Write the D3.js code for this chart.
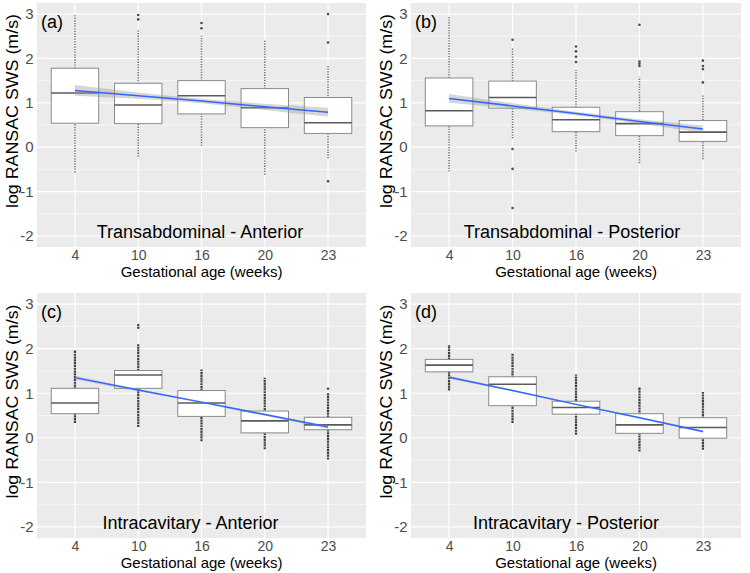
<!DOCTYPE html>
<html>
<head>
<meta charset="utf-8">
<script src="https://cdn.jsdelivr.net/npm/d3@7"></script>
<style>
  body { margin: 0; background: #fff; }
  text { font-family: "Liberation Sans", Arial, sans-serif; }
</style>
</head>
<body>
<script>
// categories (gestational age, weeks)
var categories = ["4", "10", "16", "20", "23"];
var yTicks = [-2, -1, 0, 1, 2, 3];
var yMinor = [-1.5, -0.5, 0.5, 1.5, 2.5];
var panelLetters = ["(a)", "(b)", "(c)", "(d)"];
var panelTitles = [
  "Transabdominal - Anterior",
  "Transabdominal - Posterior",
  "Intracavitary - Anterior",
  "Intracavitary - Posterior"
];

// boxes: [q1, median, q3] per category
var boxesA = [[0.54, 1.22, 1.78], [0.53, 0.95, 1.44], [0.75, 1.16, 1.50], [0.44, 0.89, 1.32], [0.31, 0.55, 1.12]];
var boxesB = [[0.48, 0.82, 1.56], [0.88, 1.12, 1.49], [0.35, 0.62, 0.90], [0.26, 0.53, 0.80], [0.13, 0.34, 0.60]];
var boxesC = [[0.54, 0.78, 1.11], [1.11, 1.41, 1.51], [0.48, 0.78, 1.06], [0.11, 0.38, 0.60], [0.18, 0.29, 0.46]];
var boxesD = [[1.48, 1.63, 1.76], [0.72, 1.20, 1.37], [0.53, 0.68, 0.82], [0.10, 0.29, 0.54], [-0.01, 0.23, 0.45]];

// dense run of raw points: [low, high] per category
var stripsA = [[-0.57, 2.98], [-0.21, 2.66], [0.03, 2.51], [-0.62, 2.42], [-0.25, 1.86]];
var stripsB = [[-0.55, 2.96], [0.20, 2.23], [-0.10, 1.74], [-0.36, 1.59], [-0.27, 1.18]];
var stripsC = [[0.33, 1.97], [0.24, 2.10], [-0.08, 1.53], [-0.26, 1.35], [-0.49, 1.00]];
var stripsD = [[1.06, 2.08], [0.33, 1.89], [0.07, 1.42], [-0.31, 1.14], [-0.27, 1.03]];

// isolated points
var outliersA = [[], [2.98, 2.88], [2.80, 2.68], [], [3.00, 2.36, -0.77]];
var outliersB = [[], [2.42, -0.04, -0.49, -1.37], [2.27, 2.16, 2.04, 1.92], [2.76, 1.93, 1.88, 1.83], [1.95, 1.83, 1.76, 1.46]];
var outliersC = [[], [2.53, 2.47], [], [], [1.10]];
var outliersD = [[], [], [], [], []];

// linear fit and half width of its confidence band
var fitA = [1.28, 1.16, 1.04, 0.91, 0.79];
var fitB = [1.10, 0.93, 0.76, 0.58, 0.41];
var fitC = [1.35, 1.07, 0.80, 0.52, 0.24];
var fitD = [1.36, 1.06, 0.75, 0.45, 0.14];
var ciA = [0.12, 0.07, 0.05, 0.07, 0.10];
var ciB = [0.10, 0.06, 0.04, 0.05, 0.08];
var ciC = [0.04, 0.025, 0.02, 0.025, 0.035];
var ciD = [0.035, 0.02, 0.015, 0.02, 0.03];

var panels = [
  { boxes: boxesA, strips: stripsA, outliers: outliersA, fit: fitA, ci: ciA },
  { boxes: boxesB, strips: stripsB, outliers: outliersB, fit: fitB, ci: ciB },
  { boxes: boxesC, strips: stripsC, outliers: outliersC, fit: fitC, ci: ciC },
  { boxes: boxesD, strips: stripsD, outliers: outliersD, fit: fitD, ci: ciD }
];

var layout = [
  { x0: 37, x1: 366, y0: 3, y1: 247, tx: 163, dense: false },
  { x0: 411, x1: 741, y0: 3, y1: 247, tx: 161, dense: false },
  { x0: 37, x1: 366, y0: 293, y1: 538, tx: 153.5, dense: true },
  { x0: 411, x1: 741, y0: 293, y1: 538, tx: 155, dense: true }
];

var svgWidth = 750;
var svgHeight = 573;

var svg = d3.select("body").append("svg")
  .attr("width", svgWidth)
  .attr("height", svgHeight);

svg.append("rect").attr("width", svgWidth).attr("height", svgHeight).attr("fill", "#fff");

panels.forEach(function(p, i) {
  var L = layout[i];
  var g = svg.append("g");

  var x = d3.scalePoint().domain(categories).range([L.x0, L.x1]).padding(0.6);
  var y = d3.scaleLinear().domain([-2.25, 3.25]).range([L.y1, L.y0]);
  var bw = x.step() * 0.75;

  g.append("rect")
    .attr("x", L.x0).attr("y", L.y0)
    .attr("width", L.x1 - L.x0).attr("height", L.y1 - L.y0)
    .attr("fill", "#ebebeb");

  g.selectAll(".minor").data(yMinor).enter().append("line")
    .attr("x1", L.x0).attr("x2", L.x1)
    .attr("y1", function(d) { return y(d); }).attr("y2", function(d) { return y(d); })
    .attr("stroke", "#fff").attr("stroke-width", 0.6);

  g.selectAll(".major").data(yTicks).enter().append("line")
    .attr("x1", L.x0).attr("x2", L.x1)
    .attr("y1", function(d) { return y(d); }).attr("y2", function(d) { return y(d); })
    .attr("stroke", "#fff").attr("stroke-width", 1.2);

  g.selectAll(".vgrid").data(categories).enter().append("line")
    .attr("x1", function(d) { return x(d); }).attr("x2", function(d) { return x(d); })
    .attr("y1", L.y0).attr("y2", L.y1)
    .attr("stroke", "#fff").attr("stroke-width", 1.2);

  // raw points
  g.selectAll(".strip").data(p.strips).enter().append("line")
    .attr("x1", function(d, j) { return x(categories[j]); })
    .attr("x2", function(d, j) { return x(categories[j]); })
    .attr("y1", function(d) { return y(d[0]); })
    .attr("y2", function(d) { return y(d[1]); })
    .attr("stroke", L.dense ? "#222" : "#444")
    .attr("stroke-width", L.dense ? 2.2 : 1.5)
    .attr("stroke-dasharray", L.dense ? "2.2,0.6" : "1.3,1.3")
    .attr("opacity", L.dense ? 0.85 : 0.75);

  p.outliers.forEach(function(vals, j) {
    g.selectAll(".out" + j).data(vals).enter().append("circle")
      .attr("cx", x(categories[j]))
      .attr("cy", function(d) { return y(d); })
      .attr("r", 1.3)
      .attr("fill", "#222")
      .attr("opacity", 0.8);
  });

  // boxes
  g.selectAll(".box").data(p.boxes).enter().append("rect")
    .attr("x", function(d, j) { return x(categories[j]) - bw / 2; })
    .attr("y", function(d) { return y(d[2]); })
    .attr("width", bw)
    .attr("height", function(d) { return y(d[0]) - y(d[2]); })
    .attr("fill", "#fff")
    .attr("stroke", "#8a8a8a")
    .attr("stroke-width", 1);

  g.selectAll(".median").data(p.boxes).enter().append("line")
    .attr("x1", function(d, j) { return x(categories[j]) - bw / 2; })
    .attr("x2", function(d, j) { return x(categories[j]) + bw / 2; })
    .attr("y1", function(d) { return y(d[1]); })
    .attr("y2", function(d) { return y(d[1]); })
    .attr("stroke", "#5a5a5a")
    .attr("stroke-width", 1.6);

  // fit with confidence band
  var band = d3.area()
    .x(function(d, j) { return x(categories[j]); })
    .y0(function(d, j) { return y(d - p.ci[j]); })
    .y1(function(d, j) { return y(d + p.ci[j]); })
    .curve(d3.curveNatural);

  g.append("path").datum(p.fit)
    .attr("d", band)
    .attr("fill", "#999")
    .attr("opacity", 0.4);

  g.append("path").datum(p.fit)
    .attr("d", d3.line()
      .x(function(d, j) { return x(categories[j]); })
      .y(function(d) { return y(d); }))
    .attr("fill", "none")
    .attr("stroke", "#3366ff")
    .attr("stroke-width", 1.5);

  // axes (tick marks hidden, labels only)
  var xAxis = g.append("g")
    .attr("transform", "translate(0," + L.y1 + ")")
    .call(d3.axisBottom(x).tickSize(0).tickPadding(3.5));
  var yAxis = g.append("g")
    .attr("transform", "translate(" + L.x0 + ",0)")
    .call(d3.axisLeft(y).tickValues(yTicks).tickSize(0).tickPadding(3.5)
      .tickFormat(function(d) { return String(d); }));

  [xAxis, yAxis].forEach(function(a) {
    a.select(".domain").remove();
    a.selectAll(".tick text")
      .attr("fill", "#4d4d4d")
      .style("font-size", "14px")
      .style("font-family", "'Liberation Sans', Arial, sans-serif");
  });
  yAxis.selectAll(".tick text").style("font-size", "15px");

  g.append("text")
    .attr("x", (L.x0 + L.x1) / 2)
    .attr("y", L.y1 + 30)
    .attr("text-anchor", "middle")
    .style("font-size", "15px")
    .attr("fill", "#000")
    .text("Gestational age (weeks)");

  var cy = (L.y0 + L.y1) / 2 - 14;
  g.append("text")
    .attr("transform", "translate(" + (L.x0 - 19) + "," + cy + ") rotate(-90)")
    .attr("text-anchor", "middle")
    .attr("textLength", 194)
    .attr("lengthAdjust", "spacingAndGlyphs")
    .style("font-size", "16px")
    .attr("fill", "#000")
    .text("log RANSAC SWS (m/s)");

  g.append("text")
    .attr("x", L.x0 + 4)
    .attr("y", L.y0 + 25)
    .style("font-size", "18px")
    .attr("fill", "#000")
    .text(panelLetters[i]);

  g.append("text")
    .attr("x", L.x0 + L.tx)
    .attr("y", L.y1 - 9)
    .attr("text-anchor", "middle")
    .style("font-size", "18px")
    .attr("fill", "#000")
    .text(panelTitles[i]);
});
</script>
</body>
</html>
